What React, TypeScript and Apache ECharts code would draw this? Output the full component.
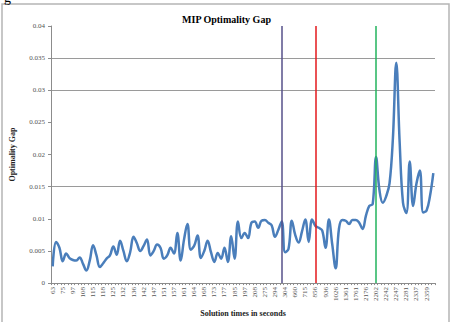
import React, { useEffect, useRef } from "react";
import * as echarts from "echarts";

// Solution times (s) for each recorded solve, in run order
const solutionTimes: string[] = [
  "63", "68", "71", "75", "82", "90", "97", "101", "104", "108", "110", "113",
  "115", "116", "117", "118", "120", "123", "125", "127", "130", "132", "133", "135",
  "136", "138", "140", "142", "144", "145", "147", "148", "150", "151", "153", "155",
  "157", "158", "160", "161", "162", "163", "164", "165", "167", "168", "170", "171",
  "173", "174", "176", "177", "178", "179", "185", "189", "193", "197", "201", "204",
  "208", "230", "256", "275", "281", "288", "294", "297", "300", "304", "412", "540",
  "660", "681", "698", "715", "762", "810", "856", "880", "910", "936", "962", "994",
  "1026", "1140", "1250", "1361", "1490", "1620", "1761", "1900", "2040", "2176", "2185", "2194",
  "2202", "2215", "2228", "2242", "2244", "2245", "2247", "2259", "2270", "2281", "2300", "2318",
  "2337", "2344", "2352", "2359", "2366", "2372",
];

// MIP optimality gap at each solve
const optimalityGap: number[] = [
  0.0026, 0.0064, 0.0055, 0.0034, 0.0046, 0.0039, 0.0036, 0.0035, 0.0040, 0.0030,
  0.00195, 0.0035, 0.0059, 0.0043, 0.0025, 0.0031, 0.0038, 0.0043, 0.0057, 0.0044,
  0.0066, 0.0050, 0.0034, 0.0048, 0.0072, 0.0062, 0.0050, 0.0058, 0.0068, 0.0043,
  0.0050, 0.0060, 0.0055, 0.0038, 0.0043, 0.0055, 0.0046, 0.0078, 0.0035, 0.0068,
  0.0092, 0.0052, 0.0058, 0.0074, 0.0039, 0.0050, 0.0066, 0.0048, 0.0033, 0.0047,
  0.0038, 0.0055, 0.0033, 0.0073, 0.0038, 0.0096, 0.0070, 0.0078, 0.0070, 0.0094,
  0.0096, 0.0086, 0.0097, 0.0098, 0.0094, 0.0090, 0.0072, 0.0083, 0.0096, 0.0048,
  0.0053, 0.0097, 0.0075, 0.0063, 0.0080, 0.0099, 0.0064, 0.0099, 0.0089, 0.0086,
  0.0082, 0.0055, 0.0099, 0.0060, 0.0023, 0.0085, 0.0098, 0.0097, 0.0092, 0.0098,
  0.0098, 0.0094, 0.0084, 0.0105, 0.0120, 0.0123, 0.0196, 0.0145, 0.0125, 0.0135,
  0.0155, 0.0225, 0.0343, 0.0220, 0.0125, 0.0109, 0.0189, 0.0120, 0.0155, 0.0175,
  0.0110, 0.0113, 0.0135, 0.0171,
];

// Y axis range and step
const yMin = 0;
const yMax = 0.04;
const yStep = 0.005;

// Levels that get a horizontal grid line
const gridLevels: number[] = [0.015, 0.03, 0.035];

// Vertical event markers: category index and colour
const markerIndex: number[] = [68, 78, 96];
const markerColor: string[] = ["#56508a", "#e3181d", "#22b35c"];

const SERIF = "'Liberation Serif', 'Times New Roman', serif";

// One split-line colour per tick, from min upward; unmarked ticks stay invisible
const tickCount = Math.round((yMax - yMin) / yStep) + 1;
const splitColors: string[] = Array.from({ length: tickCount }, (_, k) => {
  const v = yMin + k * yStep;
  return gridLevels.some((g) => Math.abs(g - v) < 1e-9) ? "#9a9a9a" : "rgba(0,0,0,0)";
});

export default function App() {
  const ref = useRef<HTMLDivElement>(null);

  useEffect(() => {
    if (!ref.current) return;
    const chart = echarts.init(ref.current, undefined, { renderer: "svg" });
    chart.setOption({
      animation: false,
      backgroundColor: "#ffffff",
      title: {
        text: "MIP Optimality Gap",
        left: "center",
        top: 9,
        textStyle: { fontFamily: SERIF, fontWeight: "bold", fontSize: 10, color: "#000" },
      },
      grid: { left: 41, right: 18, top: 26, bottom: 36, containLabel: false },
      xAxis: {
        type: "category",
        data: solutionTimes,
        boundaryGap: true,
        name: "Solution times in seconds",
        nameLocation: "middle",
        nameGap: 24,
        nameTextStyle: { fontFamily: SERIF, fontWeight: "bold", fontSize: 8, color: "#222" },
        axisLine: { lineStyle: { color: "#8c8c8c", width: 1 } },
        axisTick: { show: true, interval: 0, length: 2, lineStyle: { color: "#8c8c8c" } },
        axisLabel: {
          interval: 2,
          rotate: 90,
          fontFamily: SERIF,
          fontSize: 7,
          color: "#555",
          margin: 4,
        },
        splitLine: { show: false },
      },
      yAxis: {
        type: "value",
        min: yMin,
        max: yMax,
        interval: yStep,
        name: "Optimality Gap",
        nameLocation: "middle",
        nameRotate: 90,
        nameGap: 35,
        nameTextStyle: { fontFamily: SERIF, fontWeight: "bold", fontSize: 8, color: "#222" },
        axisLine: { show: true, lineStyle: { color: "#8c8c8c", width: 1 } },
        axisTick: { show: true, length: 3, lineStyle: { color: "#8c8c8c" } },
        axisLabel: { fontFamily: SERIF, fontSize: 7, color: "#555", margin: 6 },
        splitLine: {
          show: true,
          showMinLine: true,
          showMaxLine: true,
          lineStyle: { color: splitColors, width: 1 },
        },
      },
      series: [
        {
          type: "line",
          data: optimalityGap,
          smooth: 0.4,
          showSymbol: false,
          z: 3,
          lineStyle: { color: "#4a7ebb", width: 2.5 },
          itemStyle: { color: "#4a7ebb" },
        },
        {
          type: "line",
          data: [],
          silent: true,
          z: 5,
          markLine: {
            silent: true,
            symbol: "none",
            label: { show: false },
            data: markerIndex.map((idx, k) => ({
              xAxis: idx,
              lineStyle: { color: markerColor[k], width: 1.5, type: "solid" },
            })),
          },
        },
      ],
      graphic: [
        {
          type: "rect",
          shape: { x: 2, y: 4, width: 447, height: 330 },
          style: { fill: "none", stroke: "#b5b5b5", lineWidth: 1.5 },
          silent: true,
        },
        {
          type: "text",
          x: 4,
          y: -10,
          style: { text: "g", font: "14px " + SERIF, fill: "#000" },
          silent: true,
        },
      ],
    });
    return () => chart.dispose();
  }, []);

  return (
    <div
      ref={ref}
      style={{ position: "fixed", left: 0, top: 0, width: 453, height: 322 }}
    />
  );
}
